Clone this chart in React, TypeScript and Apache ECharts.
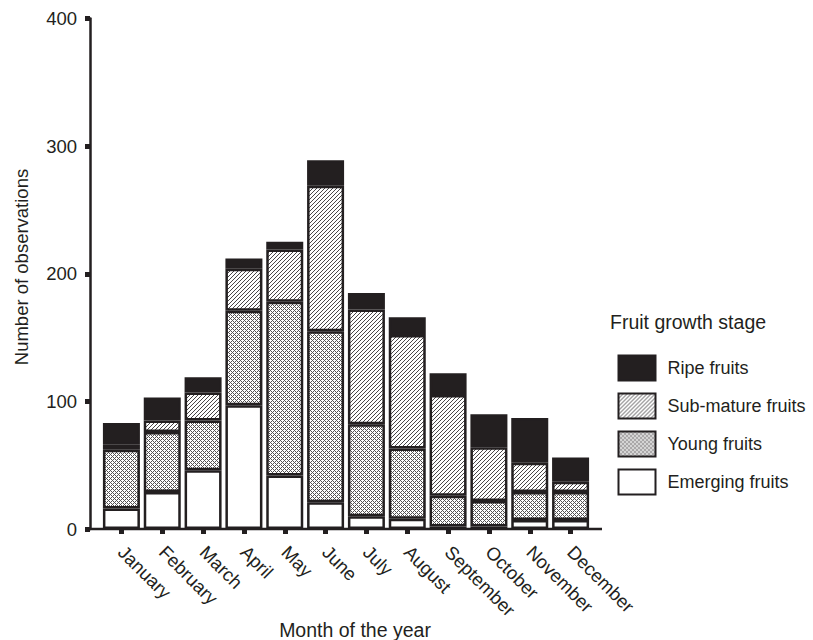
import React, { useEffect, useRef } from 'react';
import * as echarts from 'echarts';

const months = ['January', 'February', 'March', 'April', 'May', 'June', 'July', 'August', 'September', 'October', 'November', 'December'];
const emerging = [16, 29, 46, 97, 42, 21, 10, 8, 2, 2, 7, 7];
const young = [46, 47, 39, 74, 136, 134, 72, 55, 24, 20, 22, 22];
const subMature = [4, 9, 22, 33, 41, 114, 90, 89, 79, 42, 23, 8];
const ripe = [17, 18, 12, 8, 6, 20, 13, 14, 17, 26, 35, 19];
const yTicks = [0, 100, 200, 300, 400];

const DARK = '#231f20';
const FONT = '"Liberation Sans", Arial, Helvetica, sans-serif';

function makePattern(kind: 'stripe' | 'cross') {
  const size = 4;
  const c = document.createElement('canvas');
  c.width = size;
  c.height = size;
  const ctx = c.getContext('2d')!;
  ctx.fillStyle = '#ffffff';
  ctx.fillRect(0, 0, size, size);
  ctx.fillStyle = kind === 'stripe' ? '#4a4748' : '#555253';
  for (let x = 0; x < size; x++) {
    for (let y = 0; y < size; y++) {
      const a = (x + y) % size === 0;
      const b = ((x - y) % size + size) % size === 0;
      if (kind === 'stripe' ? a : a || b) ctx.fillRect(x, y, 1, 1);
    }
  }
  return { image: c, repeat: 'repeat', imageWidth: size, imageHeight: size } as any;
}

export default function App() {
  const ref = useRef<HTMLDivElement>(null);
  useEffect(() => {
    if (!ref.current) return;
    const chart = echarts.init(ref.current, undefined, { renderer: 'svg' });
    const stripe = makePattern('stripe');
    const cross = makePattern('cross');
    const barBase = {
      type: 'bar' as const,
      stack: 'total',
      barWidth: 37,
      emphasis: { disabled: true },
    };
    const border = { borderColor: DARK, borderWidth: 2.5 };
    chart.setOption({
      animation: false,
      textStyle: { fontFamily: FONT, color: DARK },
      grid: { left: 101, right: 222, top: 18.5, bottom: 111, containLabel: false },
      xAxis: {
        type: 'category',
        data: months,
        axisLine: { show: false },
        axisTick: { show: true, alignWithLabel: true, length: 5, lineStyle: { width: 5, color: DARK } },
        axisLabel: { rotate: -45, margin: 20, fontSize: 18.5, color: DARK, fontFamily: FONT, interval: 0 },
      },
      yAxis: {
        type: 'value',
        min: 0,
        max: 400,
        interval: 100,
        offset: 11,
        splitLine: { show: false },
        axisLine: { show: true, lineStyle: { color: DARK, width: 2.5 } },
        axisTick: { show: true, length: 5, lineStyle: { width: 5, color: DARK } },
        axisLabel: {
          margin: 13,
          fontSize: 18.5,
          color: DARK,
          fontFamily: FONT,
          formatter: (v: number) => (yTicks.includes(v) ? String(v) : ''),
        },
      },
      legend: {
        orient: 'vertical',
        left: 617.5,
        top: 354.5,
        padding: 0,
        itemWidth: 37,
        itemHeight: 25,
        itemGap: 11,
        icon: 'rect',
        selectedMode: false,
        data: ['Ripe fruits', 'Sub-mature fruits', 'Young fruits', 'Emerging fruits'],
        textStyle: { fontSize: 18, color: DARK, fontFamily: FONT, padding: [0, 0, 0, 7] },
      },
      graphic: [
        {
          type: 'line',
          z: 100,
          shape: { x1: 88.5, y1: 529, x2: 602, y2: 529 },
          style: { stroke: DARK, lineWidth: 2.5 },
        },
        {
          type: 'text',
          x: 21,
          y: 267,
          rotation: Math.PI / 2,
          style: { text: 'Number of observations', fontSize: 18.5, fontFamily: FONT, fill: DARK, align: 'center', verticalAlign: 'middle' },
        },
        {
          type: 'text',
          x: 355,
          y: 630,
          style: { text: 'Month of the year', fontSize: 19.5, fontFamily: FONT, fill: DARK, align: 'center', verticalAlign: 'middle' },
        },
        {
          type: 'text',
          x: 610,
          y: 322,
          style: { text: 'Fruit growth stage', fontSize: 19.5, fontFamily: FONT, fill: DARK, align: 'left', verticalAlign: 'middle' },
        },
      ],
      series: [
        { ...barBase, name: 'Emerging fruits', data: emerging, itemStyle: { color: '#ffffff', ...border } },
        { ...barBase, name: 'Young fruits', data: young, itemStyle: { color: cross, ...border } },
        { ...barBase, name: 'Sub-mature fruits', data: subMature, itemStyle: { color: stripe, ...border } },
        { ...barBase, name: 'Ripe fruits', data: ripe, itemStyle: { color: DARK, ...border } },
      ],
    });
    return () => chart.dispose();
  }, []);
  return <div ref={ref} style={{ width: 813, height: 640, position: 'absolute', left: 0, top: 0 }} />;
}
